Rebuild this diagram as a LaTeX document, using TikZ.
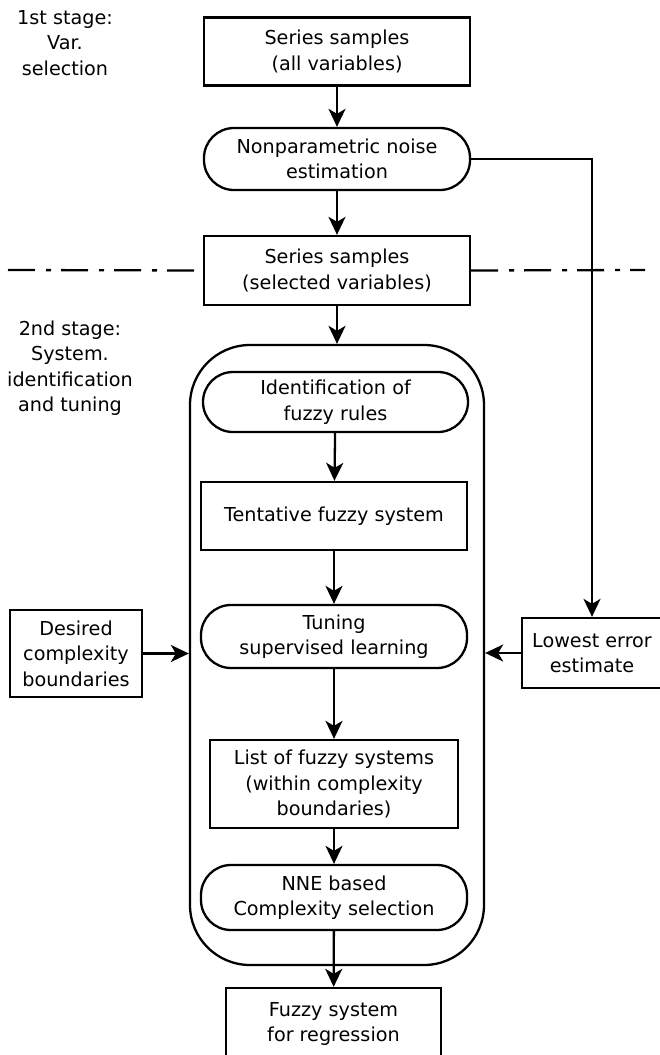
\documentclass[tikz,border=0pt]{standalone}
\usepackage{fontspec}
\setmainfont{DejaVu Sans}
\usetikzlibrary{arrows.meta, positioning, calc}

\tikzset{
  txt/.style={align=center, font=\fontsize{19.2}{25.5}\selectfont},
  procbox/.style={txt, draw, line width=2.3pt, minimum width=266pt, minimum height=68pt, inner sep=0pt},
  roundbox/.style={procbox, rounded corners=30pt, minimum height=62pt},
  flow/.style={line width=2.3pt, -{Stealth[length=18pt, width=17pt, inset=5pt]}},
  stageline/.style={line width=2.3pt, dash pattern=on 27pt off 11pt on 5pt off 10pt},
}

\begin{document}
\begin{tikzpicture}[x=1pt, y=-1pt]
    \useasboundingbox (0,0) rectangle (659,1055);

    % Stage labels
    \node[txt] (stage1) at (65,43) {1st stage:\\Var.\\selection};
    \node[txt] (stage2) at (70,368) {2nd stage:\\System.\\identification\\and tuning};

    % First stage
    \node[procbox] (series) at (337,51.5) {Series samples\\(all variables)};
    \node[roundbox] (noise) at (337,159) {Nonparametric noise\\estimation};
    \node[procbox, minimum height=69pt] (selected) at (337,270.5) {Series samples\\(selected variables)};

    % Stage separator
    \coordinate (sepL) at (8,270);
    \coordinate (sepR) at (645,270);
    \draw[stageline] (sepL) -- (selected.west);
    \draw[stageline] (selected.east) -- (sepR);

    % Second stage container
    \node[draw, line width=2.3pt, rounded corners=60pt, minimum width=294pt, minimum height=620pt] (stage) at (337,655) {};
    \node[roundbox, minimum width=265pt, minimum height=60pt] (rules) at (335.5,402) {Identification of\\fuzzy rules};
    \node[procbox] (tentative) at (334,516) {Tentative fuzzy system};
    \node[roundbox, minimum height=63pt] (tuning) at (334,636.5) {Tuning\\supervised learning};
    \node[procbox, minimum width=248pt, minimum height=88pt] (list) at (334,784) {List of fuzzy systems\\(within complexity\\boundaries)};
    \node[roundbox, minimum height=65pt] (nne) at (334,897.5) {NNE based\\Complexity selection};
    \node[procbox, minimum width=215pt, minimum height=72pt] (regression) at (333.5,1024) {Fuzzy system\\for regression};

    % Side inputs
    \node[procbox, minimum width=132pt, minimum height=87pt] (desired) at (76,653.5) {Desired\\complexity\\boundaries};
    \node[procbox, minimum width=140pt, minimum height=70pt] (lowest) at (592,653) {Lowest error\\estimate};

    % Connectors
    \draw[flow] (series) -- (noise);
    \draw[flow] (noise) -- (selected);
    \draw[flow] (selected) -- (stage);
    \draw[flow] (noise.east) -| (lowest.north);
    \draw[flow] (rules) -- (tentative);
    \draw[flow] (tentative) -- (tuning);
    \draw[flow] (tuning) -- (list);
    \draw[flow] (list) -- (nne);
    \draw[flow] (nne) -- (regression);
    \draw[flow] (desired) -- (stage.west |- desired);
    \draw[flow] (lowest.west) -- (stage.east |- lowest.west);
\end{tikzpicture}
\end{document}
